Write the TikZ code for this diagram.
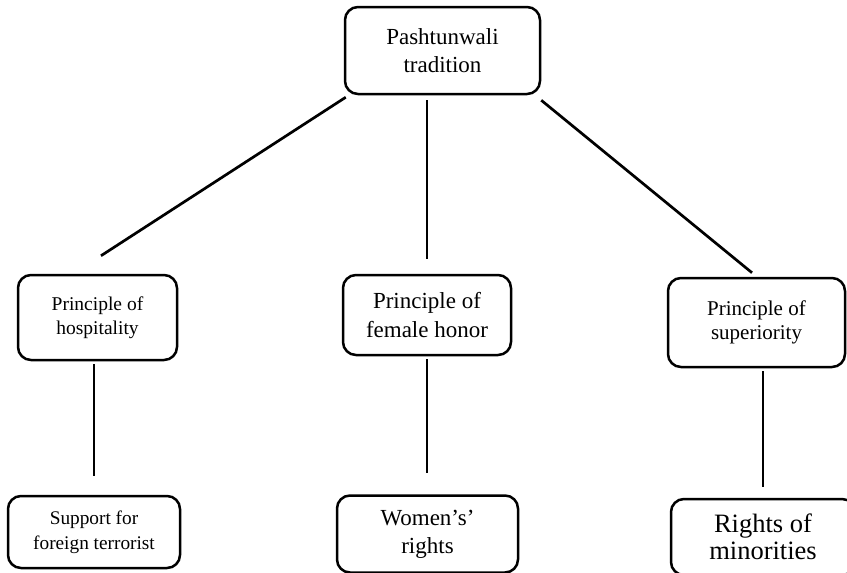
\documentclass[tikz,border=0pt]{standalone}
\usepackage{fontspec}
\setmainfont{Liberation Serif}
\begin{document}
\begin{tikzpicture}
[x=1pt,y=-1pt,
 box/.style={draw,rounded corners=13pt,line width=2.5pt,align=center,inner sep=0pt},
 link/.style={line width=2.7pt}]
\useasboundingbox (0,0) rectangle (847,573);
% root
\node[box,minimum width=195pt,minimum height=87pt,font=\fontsize{23}{28}\selectfont] (root) at (442.5,50.5) {Pashtunwali\\tradition};
% principles
\node[box,minimum width=159pt,minimum height=85pt,font=\fontsize{19.5}{24}\selectfont] (hosp) at (97.5,317.5) {Principle of\\hospitality};
\node[box,minimum width=168pt,minimum height=80pt,font=\fontsize{23}{29}\selectfont] (fem) at (427,315) {Principle of\\female honor};
\node[box,minimum width=177pt,minimum height=89pt,font=\fontsize{21}{24}\selectfont] (supr) at (756.5,322.5) {Principle of\\superiority};
% consequences
\node[box,minimum width=172pt,minimum height=72pt,font=\fontsize{19.3}{25}\selectfont] (terr) at (94,532) {Support for\\foreign terrorist};
\node[box,minimum width=181pt,minimum height=77pt,font=\fontsize{23}{28}\selectfont] (wom) at (427.5,534) {Women’s’\\rights};
\node[box,minimum width=184pt,minimum height=76pt,font=\fontsize{26.5}{27}\selectfont] (mino) at (763,537) {Rights of\\minorities};
% links
\draw[link] ([xshift=2pt,yshift=-2pt]root.south west) -- ([xshift=3.5pt,yshift=18pt]hosp.north);
\draw[link,shorten <=5pt,shorten >=15pt] (root.south -| fem.north) -- (fem.north);
\draw[link] ([yshift=-5pt]root.south east) -- ([xshift=-4.5pt,yshift=4pt]supr.north);
\draw[link,shorten <=3pt,shorten >=19pt] (hosp.south -| terr.north) -- (terr.north);
\draw[link,shorten <=3pt,shorten >=21pt] (fem.south) -- (fem.south |- wom.north);
\draw[link,shorten <=3pt,shorten >=11pt] (supr.south -| mino.north) -- (mino.north);
\end{tikzpicture}
\end{document}
